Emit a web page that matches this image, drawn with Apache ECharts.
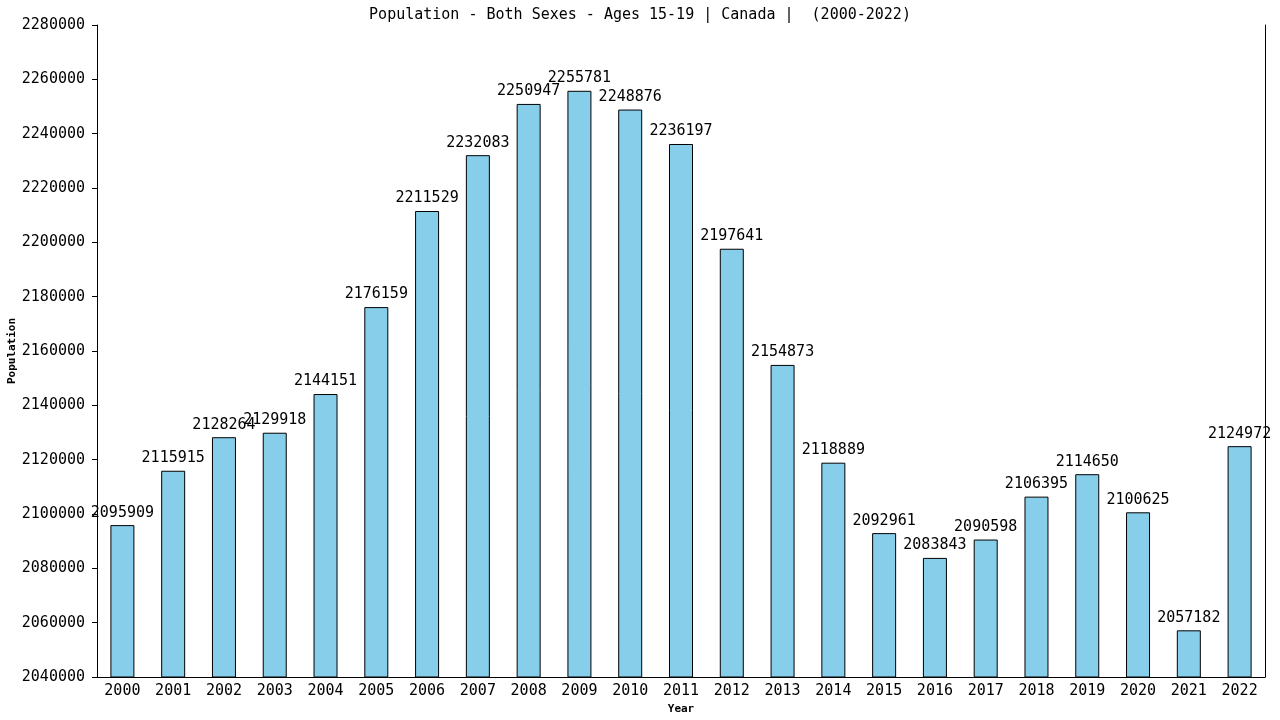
<!DOCTYPE html>
<html><head><meta charset="utf-8">
<script src="https://cdn.jsdelivr.net/npm/echarts@6/dist/echarts.min.js"></script>
<style>html,body{margin:0;padding:0;background:#fff}#c{width:1280px;height:720px}</style>
</head><body><div id="c"></div>
<script>
const years = ['2000','2001','2002','2003','2004','2005','2006','2007','2008','2009','2010','2011','2012','2013','2014','2015','2016','2017','2018','2019','2020','2021','2022'];
const population = [2095909,2115915,2128264,2129918,2144151,2176159,2211529,2232083,2250947,2255781,2248876,2236197,2197641,2154873,2118889,2092961,2083843,2090598,2106395,2114650,2100625,2057182,2124972];
const font = 'DejaVu Sans Mono';
const chart = echarts.init(document.getElementById('c'));
chart.setOption({
  animation: false,
  title: {text: 'Population - Both Sexes - Ages 15-19 | Canada |  (2000-2022)', left: 'center', top: 3,
    textStyle: {fontFamily: font, fontSize: 15, fontWeight: 'normal', color: '#000'}},
  grid: {left: 97, right: 15, top: 25, bottom: 43, containLabel: false, outerBoundsMode: 'none'},
  xAxis: {type: 'category', data: years, name: 'Year', nameLocation: 'middle', nameGap: 26,
    nameTextStyle: {fontFamily: font, fontSize: 11, fontWeight: 'bold', color: '#000'},
    axisLine: {lineStyle: {color: '#000', width: 1}}, axisTick: {show: false},
    axisLabel: {fontFamily: font, fontSize: 15, color: '#000', margin: 7, interval: 0}},
  yAxis: [{type: 'value', min: 2040000, max: 2280000, interval: 20000, name: 'Population', nameLocation: 'middle', nameGap: 79,
    nameMoveOverlap: false,
    nameTextStyle: {fontFamily: font, fontSize: 11, fontWeight: 'bold', color: '#000'},
    axisLine: {show: true, lineStyle: {color: '#000', width: 1}},
    axisTick: {show: true, length: 5, lineStyle: {color: '#000'}},
    splitLine: {show: false},
    axisLabel: {fontFamily: font, fontSize: 15, color: '#000', margin: 12, formatter: v => String(v)}},
   {type: 'value', min: 2040000, max: 2280000, position: 'right',
    axisLine: {show: true, lineStyle: {color: '#000', width: 1}}, axisTick: {show: false}, axisLabel: {show: false}, splitLine: {show: false}}],
  series: [{type: 'bar', data: population, barWidth: 24,
    itemStyle: {color: '#87ceeb', borderColor: '#000', borderWidth: 1},
    label: {show: true, position: 'top', distance: 5, fontFamily: font, fontSize: 15, color: '#000'}}]
});
</script></body></html>
